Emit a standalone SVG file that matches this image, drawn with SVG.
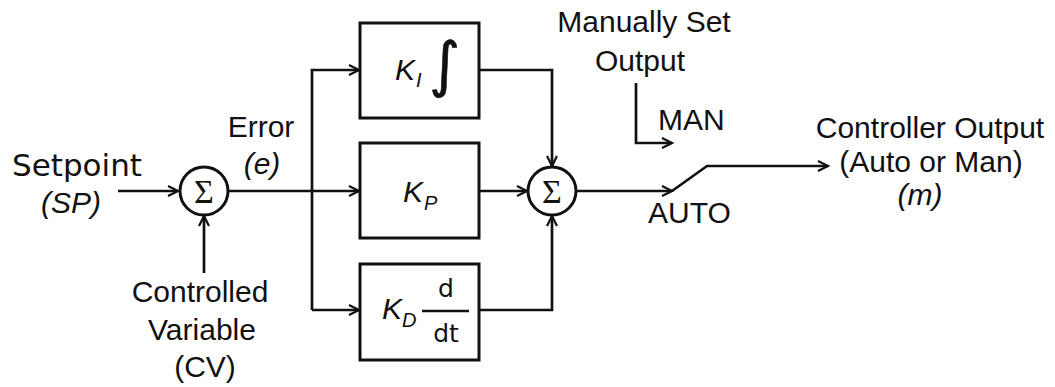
<svg xmlns="http://www.w3.org/2000/svg" width="1055" height="387" viewBox="0 0 1055 387">
<style>
.ln{fill:none;stroke:#111;stroke-width:2.7}
.bx{fill:#fff;stroke:#111;stroke-width:3}
.t{font-family:"Liberation Sans",Arial,sans-serif;font-size:30px;fill:#111}
.i{font-style:italic}
.sub{font-family:"Liberation Sans",Arial,sans-serif;font-size:20px;font-style:italic;fill:#111}
.sg{font-family:"Liberation Serif","Times New Roman",serif;font-size:34px;fill:#111;text-anchor:middle}
.m{text-anchor:middle}
.dj{font-family:"DejaVu Sans",sans-serif}
</style>
<defs>
<marker id="ar" markerUnits="userSpaceOnUse" markerWidth="14" markerHeight="14" refX="11" refY="6" orient="auto">
<path d="M1,1 L11,6 L1,11" fill="none" stroke="#111" stroke-width="2.2"/>
</marker>
</defs>
<g id="connectors">
<path class="ln" d="M118,191 H178" marker-end="url(#ar)"/>
<path class="ln" d="M204,273 V216" marker-end="url(#ar)"/>
<path class="ln" d="M228,191 H359" marker-end="url(#ar)"/>
<path class="ln" d="M312,310 V70 H359" marker-end="url(#ar)"/>
<path class="ln" d="M312,310 H359" marker-end="url(#ar)"/>
<path class="ln" d="M479,70 H552 V166" marker-end="url(#ar)"/>
<path class="ln" d="M479,191 H527" marker-end="url(#ar)"/>
<path class="ln" d="M479,310 H552 V216" marker-end="url(#ar)"/>
<path class="ln" d="M576,191 H672" marker-end="url(#ar)"/>
<path class="ln" d="M672,191 L707,166 H828" marker-end="url(#ar)"/>
<path class="ln" d="M636,83 V143 H672" marker-end="url(#ar)"/>
</g>
<g id="sum1">
<circle class="bx" cx="204" cy="191" r="24"/>
<text class="sg" x="204" y="203">Σ</text>
</g>
<g id="sum2">
<circle class="bx" cx="552" cy="191" r="24"/>
<text class="sg" x="552" y="203">Σ</text>
</g>
<g id="ki">
<rect class="bx" x="360" y="23" width="119" height="95"/>
<text class="t i" x="395" y="80">K</text>
<text class="sub" x="416" y="87">I</text>
<text class="dj" x="429" y="85" font-size="60" fill="#111" stroke="#111" stroke-width="0.6">∫</text>
</g>
<g id="kp">
<rect class="bx" x="360" y="143" width="119" height="95"/>
<text class="t i" x="403" y="202">K</text>
<text class="sub" x="424" y="210">P</text>
</g>
<g id="kd">
<rect class="bx" x="360" y="264" width="119" height="96"/>
<text class="t i" x="382" y="319">K</text>
<text class="sub" x="402" y="327">D</text>
<line class="ln" x1="422" y1="311" x2="469" y2="311"/>
<text class="dj m" x="446" y="297" font-size="25" fill="#111">d</text>
<text class="dj m" x="446" y="342" font-size="25" fill="#111">dt</text>
</g>
<g id="labels">
<text class="dj" x="12" y="176" font-size="31" fill="#111">Setpoint</text>
<text class="t i m" x="71" y="213">(SP)</text>
<text class="t m" x="261" y="137">Error</text>
<text class="t i m" x="262" y="174">(e)</text>
<text class="t m" x="200" y="302">Controlled</text>
<text class="t m" x="202" y="340">Variable</text>
<text class="t m" x="205" y="377">(CV)</text>
<text class="t m" x="644" y="32">Manually Set</text>
<text class="t m" x="640" y="71">Output</text>
<text class="t" x="658" y="130">MAN</text>
<text class="t" x="648" y="223">AUTO</text>
<text class="t m" x="930" y="138">Controller Output</text>
<text class="t m" x="931" y="172">(Auto or Man)</text>
<text class="t i m" x="920" y="205">(m)</text>
</g>
</svg>
